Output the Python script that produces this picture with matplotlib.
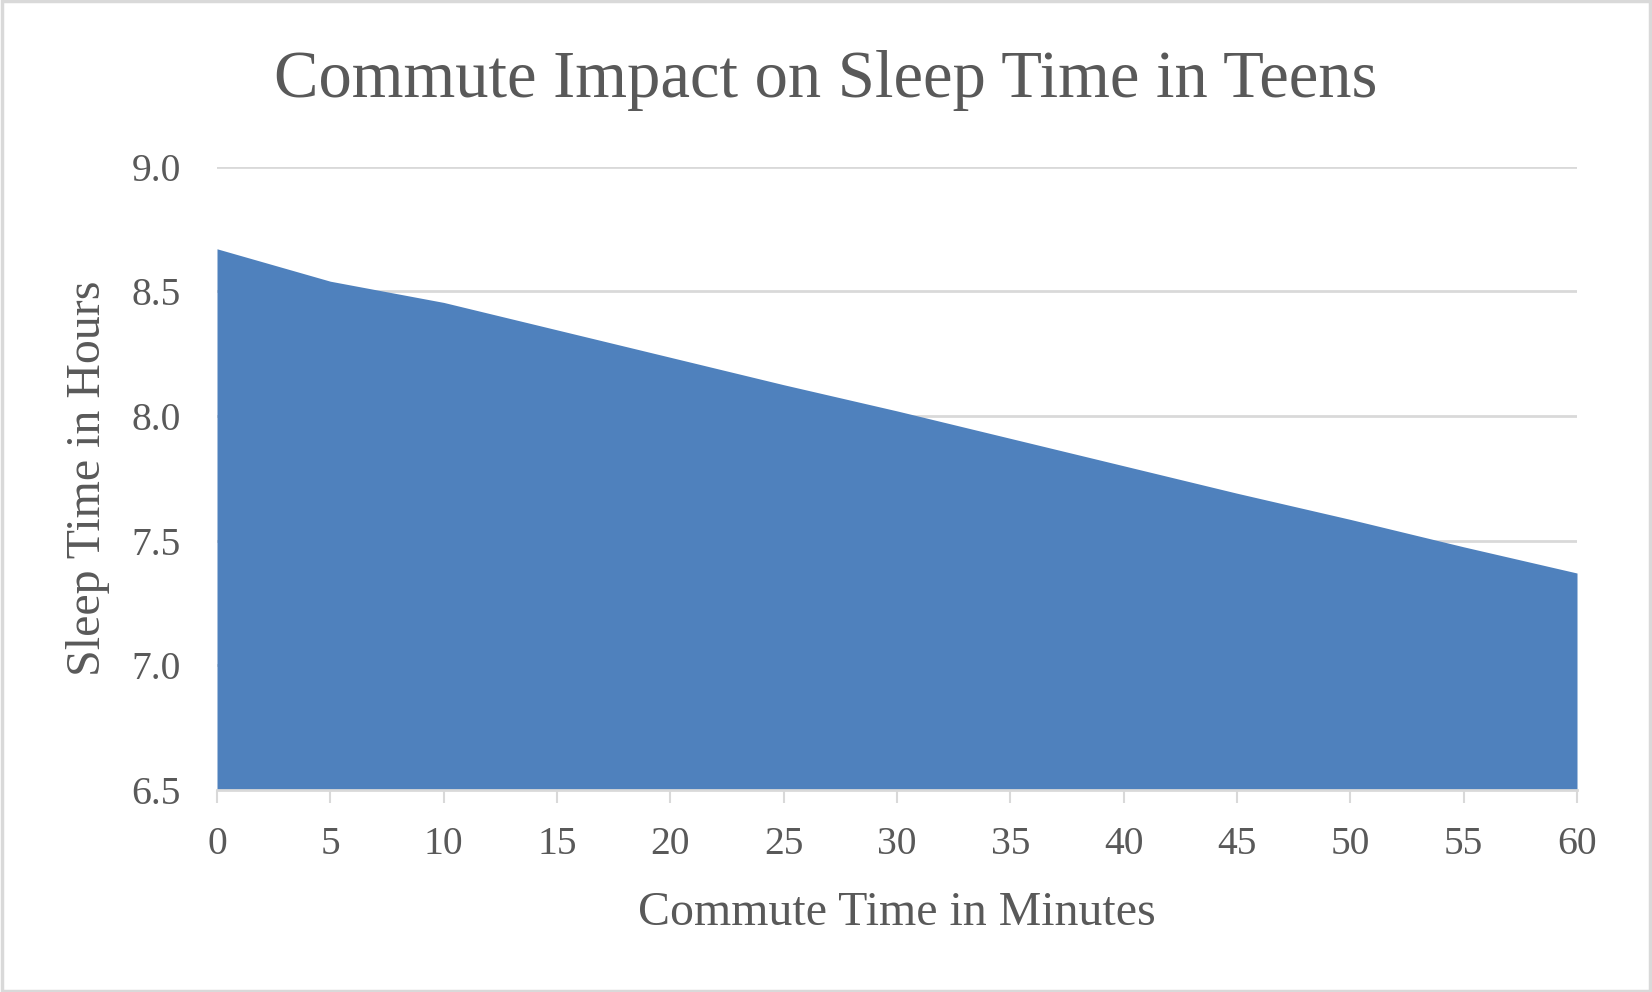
import matplotlib
matplotlib.use("Agg")
import matplotlib.pyplot as plt
from matplotlib.patches import Rectangle
from matplotlib.ticker import FormatStrFormatter, MultipleLocator

# Data
commute_minutes = [0, 5, 10, 15, 20, 25, 30, 35, 40, 45, 50, 55, 60]
sleep_hours = [8.67, 8.54, 8.455, 8.345, 8.235, 8.125, 8.02, 7.91, 7.80, 7.69, 7.585, 7.475, 7.37]
title_text = "Commute Impact on Sleep Time in Teens"
x_label = "Commute Time in Minutes"
y_label = "Sleep Time in Hours"

FONT = ["Liberation Serif", "DejaVu Serif"]
TEXT_COLOR = "#595959"
GRID_COLOR = "#D9D9D9"
FILL_COLOR = "#4F81BD"

W, H = 1652, 992
fig = plt.figure(figsize=(W / 100, H / 100), dpi=100)
fig.patch.set_facecolor("white")

ax = fig.add_axes([217 / W, 1 - 790 / H, (1577 - 217) / W, (790 - 166.5) / H])
ax.fill_between(commute_minutes, sleep_hours, 6.5, color=FILL_COLOR, linewidth=0, zorder=2)

ax.set_xlim(0, 60)
ax.set_ylim(6.5, 9.0)
ax.xaxis.set_major_locator(MultipleLocator(5))
ax.yaxis.set_major_locator(MultipleLocator(0.5))
ax.yaxis.set_major_formatter(FormatStrFormatter("%.1f"))

ax.grid(axis="y", color=GRID_COLOR, linewidth=2, zorder=0)
ax.set_axisbelow(True)
for s in ["top", "right", "left"]:
    ax.spines[s].set_visible(False)
ax.spines["bottom"].set_color(GRID_COLOR)
ax.spines["bottom"].set_linewidth(2)
ax.spines["bottom"].set_zorder(3)

ax.tick_params(axis="x", length=9, width=1.5, color=GRID_COLOR, pad=17,
               labelsize=28.5, labelcolor=TEXT_COLOR)
ax.tick_params(axis="y", length=0, pad=26, labelsize=28.5, labelcolor=TEXT_COLOR)
for lab in ax.get_xticklabels() + ax.get_yticklabels():
    lab.set_family(FONT)

fig.text(0.5, 1 - 97 / H, title_text, ha="center", va="baseline",
         fontsize=48, color=TEXT_COLOR, family=FONT)
fig.text(897 / W, 1 - 925 / H, x_label, ha="center", va="baseline",
         fontsize=34.5, color=TEXT_COLOR, family=FONT)
fig.text(88 / W, 1 - 478 / H, y_label, ha="center", va="center", rotation=90,
         fontsize=34.5, color=TEXT_COLOR, family=FONT)

# Chart border
fig.patches.append(Rectangle((0.001, 0.0015), 0.998, 0.997, transform=fig.transFigure,
                             fill=False, edgecolor=GRID_COLOR, linewidth=2.5))

fig.savefig("out.png", dpi=100, facecolor="white")
